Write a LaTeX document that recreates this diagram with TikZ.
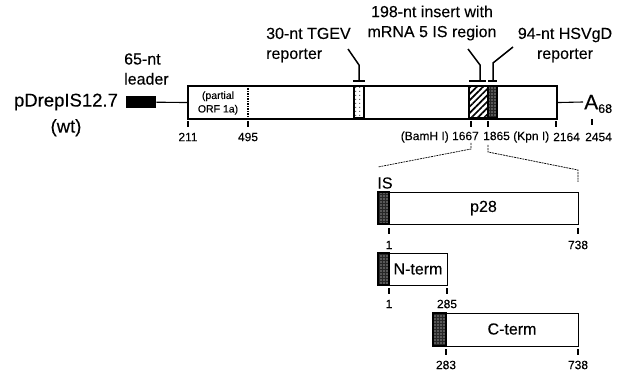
\documentclass[tikz,border=0pt]{standalone}
\usepackage{fontspec}
\setmainfont{Liberation Sans}[FakeBold=0.15]
\usetikzlibrary{patterns,patterns.meta}
\begin{document}
\begin{tikzpicture}[x=1pt,y=-1pt,
  box/.style={draw, line width=1.1pt, inner sep=0pt},
  lbl/.style={font=\fontsize{16}{20}\selectfont, inner sep=0pt},
  num/.style={font=\fontsize{12}{14}\selectfont, inner sep=0pt},
  small/.style={font=\fontsize{10.5}{13.5}\selectfont, inner sep=0pt, align=center},
  tick/.style={line width=1.1pt},
  ptr/.style={line width=1.5pt},
  tbar/.style={line width=2.6pt},
  guide/.style={line width=0.7pt, dash pattern=on 2pt off 0.8pt},
  isfill/.style={draw, line width=1.1pt, preaction={fill=black!85}, pattern={Dots[distance=3pt,radius=0.65pt]}, pattern color=white},
  tgfill/.style={draw, line width=1.1pt, pattern={Dots[distance=4pt,radius=0.75pt]}, pattern color=black!65},
  hatch/.style={draw, line width=1.1pt, pattern={Lines[angle=45,distance=4.5pt,line width=1.7pt]}},
]
\useasboundingbox (0,0) rectangle (623,379);

% plasmid name
\node[font=\fontsize{18.5}{26}\selectfont, align=center, inner sep=0pt] (name) at (66,115) {pDrepIS12.7\\(wt)};

% leader
\node[fill=black, anchor=north west, minimum width=30pt, minimum height=12pt, inner sep=0pt] (leader) at (126,96) {};
\node[lbl, align=left, anchor=west] (leaderlbl) at (124,69) {65-nt\\leader};

% main bar
\node[box, anchor=north west, minimum width=368pt, minimum height=32pt] (bar) at (188,86) {};
\draw[line width=1.1pt] (leader.east) -- (bar.west);
\node[small] (orf) at (218,103) {(partial\\ORF 1a)};
\draw[line width=1.1pt, dash pattern=on 1.5pt off 1pt] (248,86) -- (248,118);

% inserted regions
\draw[tgfill] (354,86) rectangle (364,118);
\draw[hatch] (469,86) rectangle (488,118);
\draw[isfill] (488,86) rectangle (497,118);
\draw[line width=1.1pt] (bar.north west) rectangle (bar.south east);

% poly A
\coordinate (aend) at (583,102);
\draw[line width=1.1pt] (bar.east) -- (aend);
\node[anchor=west, inner sep=0pt] (polyA) at (584,104) {\fontsize{21}{21}\selectfont A\raisebox{-3.5pt}{\fontsize{12.5}{13}\selectfont 68}};

% pointer labels
\node[lbl, align=left, anchor=west] (tgevlbl) at (266,45) {30-nt TGEV\\reporter};
\node[lbl, align=center] (inslbl) at (432,23) {198-nt insert with\\mRNA 5 IS region};
\node[lbl, align=center] (hsvlbl) at (565,45) {94-nt HSVgD\\reporter};

% pointers
\coordinate (t1) at (348,49); \coordinate (t2) at (359,65); \coordinate (t3) at (359,81);
\draw[ptr] (t1) -- (t2) -- (t3);
\draw[tbar] (353,81) -- (365,81);
\coordinate (i1) at (468,49); \coordinate (i2) at (480,65); \coordinate (i3) at (480,81);
\draw[ptr] (i1) -- (i2) -- (i3);
\draw[tbar] (469,81) -- (486,81);
\coordinate (h1) at (513,47); \coordinate (h2) at (493,63); \coordinate (h3) at (493,81);
\draw[ptr] (h1) -- (h2) -- (h3);
\draw[tbar] (488,81) -- (497,81);

% ticks and numbers on main bar
\draw[tick] (188,121) -- (188,127);
\draw[tick] (248,121) -- (248,127);
\draw[tick] (471,121) -- (471,127);
\draw[tick] (488,121) -- (488,127);
\draw[tick] (556,121) -- (556,127);
\draw[tick] (592,119) -- (592,125);
\node[num] (n211) at (188,137) {211};
\node[num] (n495) at (248,137) {495};
\node[num, anchor=east] (n1667) at (479,137) {(BamH I) 1667};
\node[num, anchor=west] (n1865) at (483,137) {1865 (Kpn I)};
\node[num, anchor=west] (n2164) at (553,137) {2164};
\node[num, anchor=west] (n2454) at (585,137) {2454};

% expansion guides
\draw[guide] (471,143) -- (471,149) -- (378,167);
\draw[guide] (488,145) -- (488,152) -- (578,170) -- (578,182);

% p28
\node[lbl] (islbl) at (385,183) {IS};
\node[box, anchor=north west, minimum width=200pt, minimum height=32pt] (p28) at (378,192) {};
\draw[isfill] (378,192) rectangle (389,224);
\node[lbl] (p28lbl) at (483.5,208) {p28};
\draw[tick] (389,228) -- (389,234);
\draw[tick] (578,228) -- (578,234);
\node[num] (p1) at (389,245) {1};
\node[num] (p738) at (578,245) {738};

% N-term
\node[box, anchor=north west, minimum width=69pt, minimum height=32pt] (nterm) at (378,253) {};
\draw[isfill] (378,253) rectangle (389,285);
\node[lbl] (ntlbl) at (418,269) {N-term};
\draw[tick] (389,288) -- (389,294);
\draw[tick] (447,288) -- (447,294);
\node[num] (n1) at (389,304) {1};
\node[num] (n285) at (447,304) {285};

% C-term
\node[box, anchor=north west, minimum width=145pt, minimum height=33pt] (cterm) at (433,313) {};
\draw[isfill] (433,313) rectangle (446,346);
\node[lbl] (ctlbl) at (512,329) {C-term};
\draw[tick] (446,349) -- (446,355);
\draw[tick] (578,349) -- (578,355);
\node[num] (c283) at (446,365) {283};
\node[num] (c738) at (578,365) {738};
\end{tikzpicture}
\end{document}
